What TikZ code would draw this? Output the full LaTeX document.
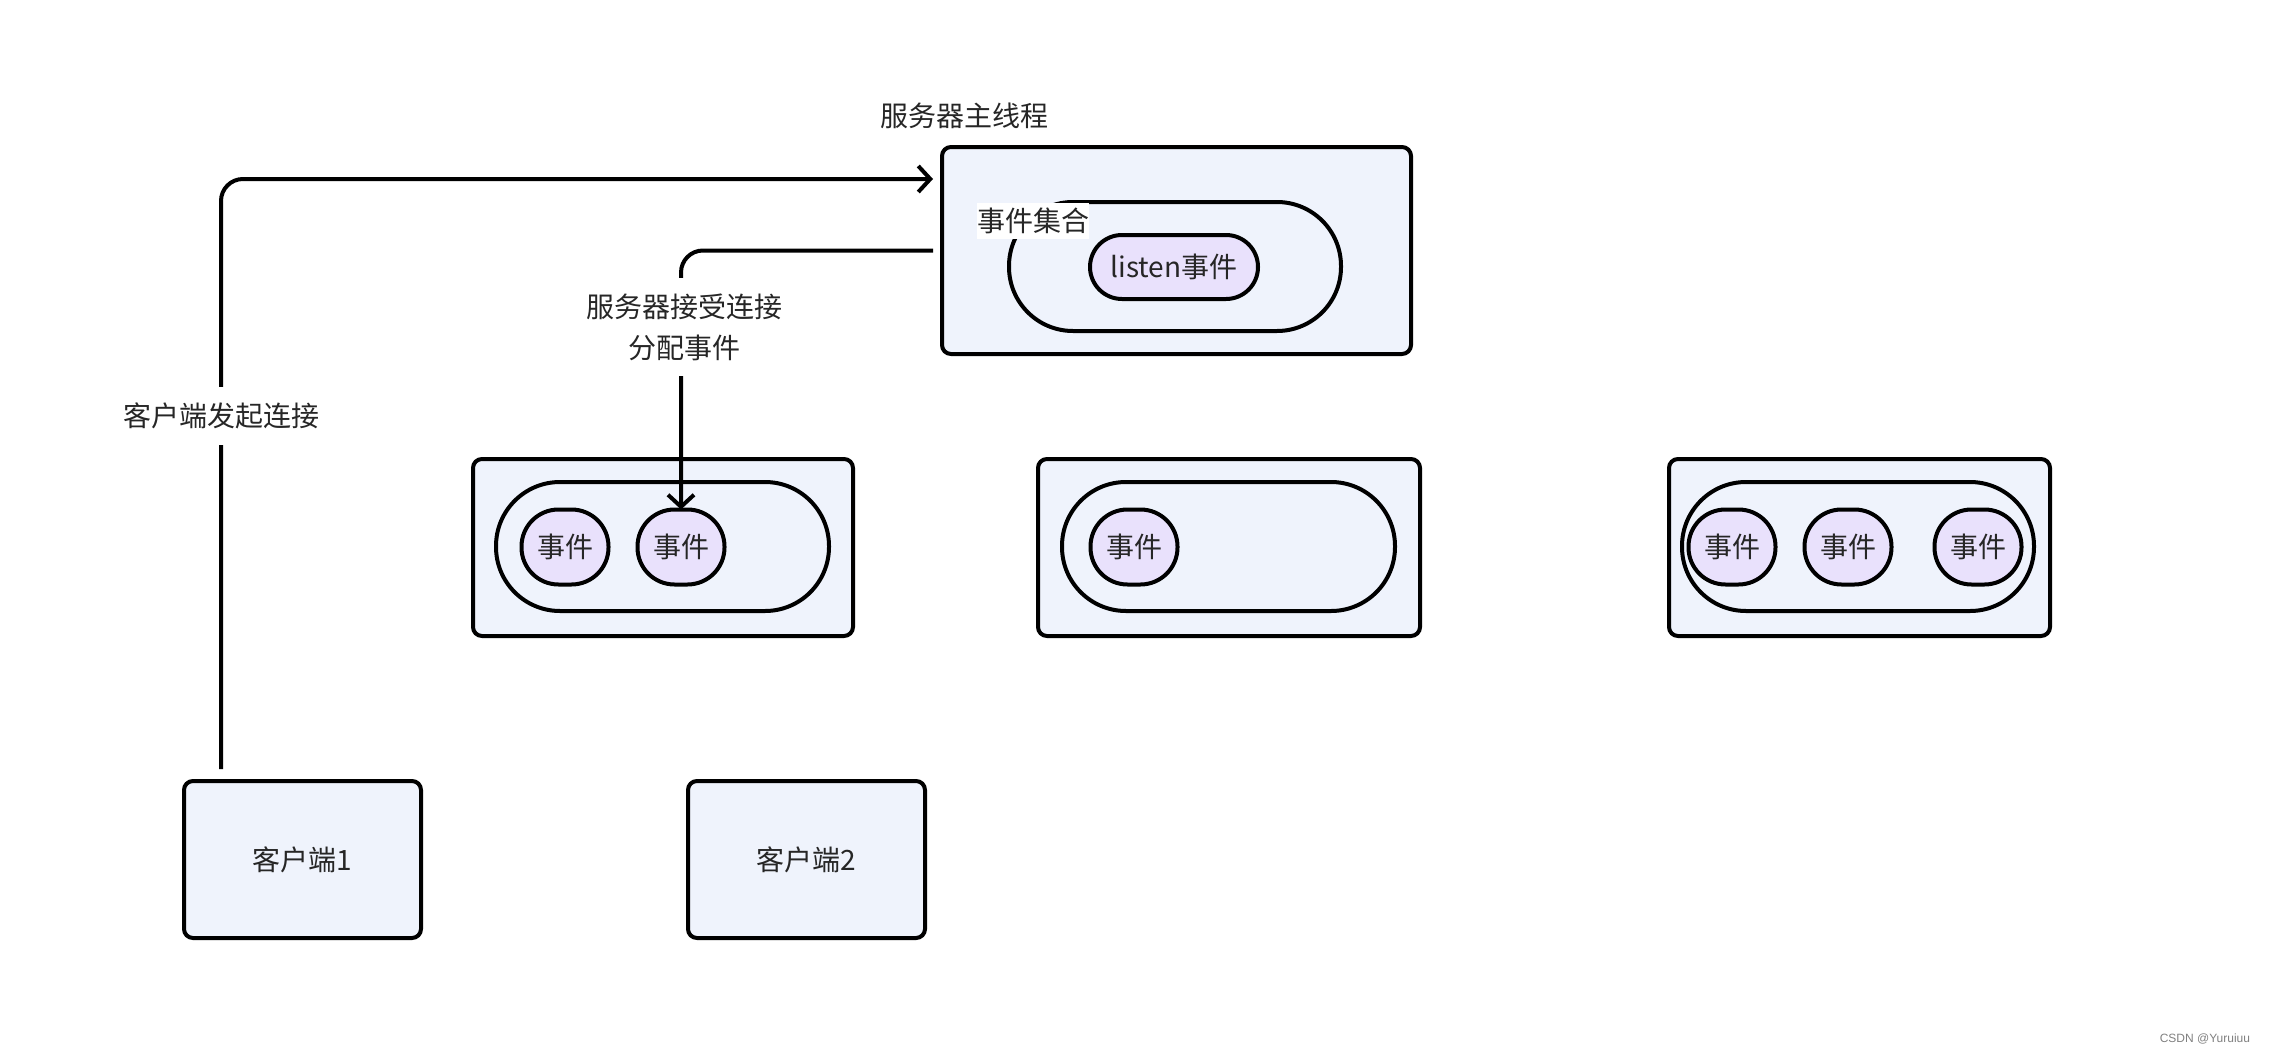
\documentclass[tikz,border=0pt]{standalone}
\usepackage{fontspec}
\setmainfont{Noto Sans CJK SC}
\newfontfamily\wmfont{Liberation Sans}
\usetikzlibrary{arrows.meta,calc}
\definecolor{boxfill}{HTML}{EFF3FC}
\definecolor{evfill}{HTML}{E9E1FC}
\definecolor{txt}{HTML}{262626}
\begin{document}
\begin{tikzpicture}[x=1pt,y=-1pt,
  font=\fontsize{28}{41}\selectfont, text=txt,
  every node/.style={inner sep=0pt, outer sep=0pt},
  container/.style={draw, line width=4pt, fill=boxfill, rectangle, rounded corners=9pt},
  setbox/.style={draw, line width=4pt, fill=boxfill, rectangle, rounded corners=64pt, minimum height=129pt},
  event/.style={draw, line width=4pt, fill=evfill, rectangle, rounded corners=37pt, minimum width=87pt, minimum height=75pt},
  conn/.style={line width=4pt, rounded corners=22pt, -{Straight Barb[length=12pt,width=26pt]}},
  lbl/.style={fill=white, inner xsep=2pt, inner ysep=16pt, align=center}
  ]
\useasboundingbox (0,0) rectangle (2276,1052);

% server main thread
\node[container, minimum width=469pt, minimum height=207pt] (srv) at (1176.5,250.5) {};
\node (srvtitle) at (964,116) {服务器主线程};
\node[setbox, minimum width=332pt] (sset) at (1175,266.5) {};
\node[fill=white, inner xsep=0pt, inner ysep=5pt] (ssetlbl) at (1033,221) {事件集合};
\node[draw, line width=4pt, fill=evfill, rectangle, rounded corners=32pt, minimum width=168pt, minimum height=64pt] (listen) at (1174,267) {listen事件};

% worker A
\node[container, minimum width=380pt, minimum height=177pt] (wa) at (663,547.5) {};
\node[setbox, minimum width=333pt] (wasset) at (662.5,546.5) {};
\node[event] (a1) at (565,547) {事件};
\node[event] (a2) at (681,547) {事件};

% worker B
\node[container, minimum width=382pt, minimum height=177pt] (wb) at (1229,547.5) {};
\node[setbox, minimum width=333pt] (wbset) at (1228.5,546.5) {};
\node[event] (b1) at (1134,547) {事件};

% worker C
\node[container, minimum width=381pt, minimum height=177pt] (wc) at (1859.5,547.5) {};
\node[setbox, minimum width=352pt] (wcset) at (1858,546.5) {};
\node[event] (c1) at (1732,547) {事件};
\node[event] (c2) at (1848,547) {事件};
\node[event] (c3) at (1978,547) {事件};

% clients
\node[container, minimum width=237pt, minimum height=157pt] (cl1) at (302.5,859.5) {客户端1};
\node[container, minimum width=237pt, minimum height=157pt] (cl2) at (806.5,859.5) {客户端2};

% connectors
\coordinate (cl1top) at ($(cl1.north west)+(37,-12)$);
\coordinate (srvin) at ($(srv.north west)+(-9,32)$);
\draw[conn] (cl1top) |- (srvin);
\node[lbl] (l1) at (221,416) {客户端发起连接};

\draw[conn, shorten <=9pt] (srv.west) -| (a2.north);
\node[lbl] (l2) at (684,327) {服务器接受连接\\分配事件};

% watermark
\node[anchor=east, text=gray, font=\wmfont\fontsize{12}{14}\selectfont] (wm) at (2250,1039) {CSDN @Yuruiuu};
\end{tikzpicture}
\end{document}
